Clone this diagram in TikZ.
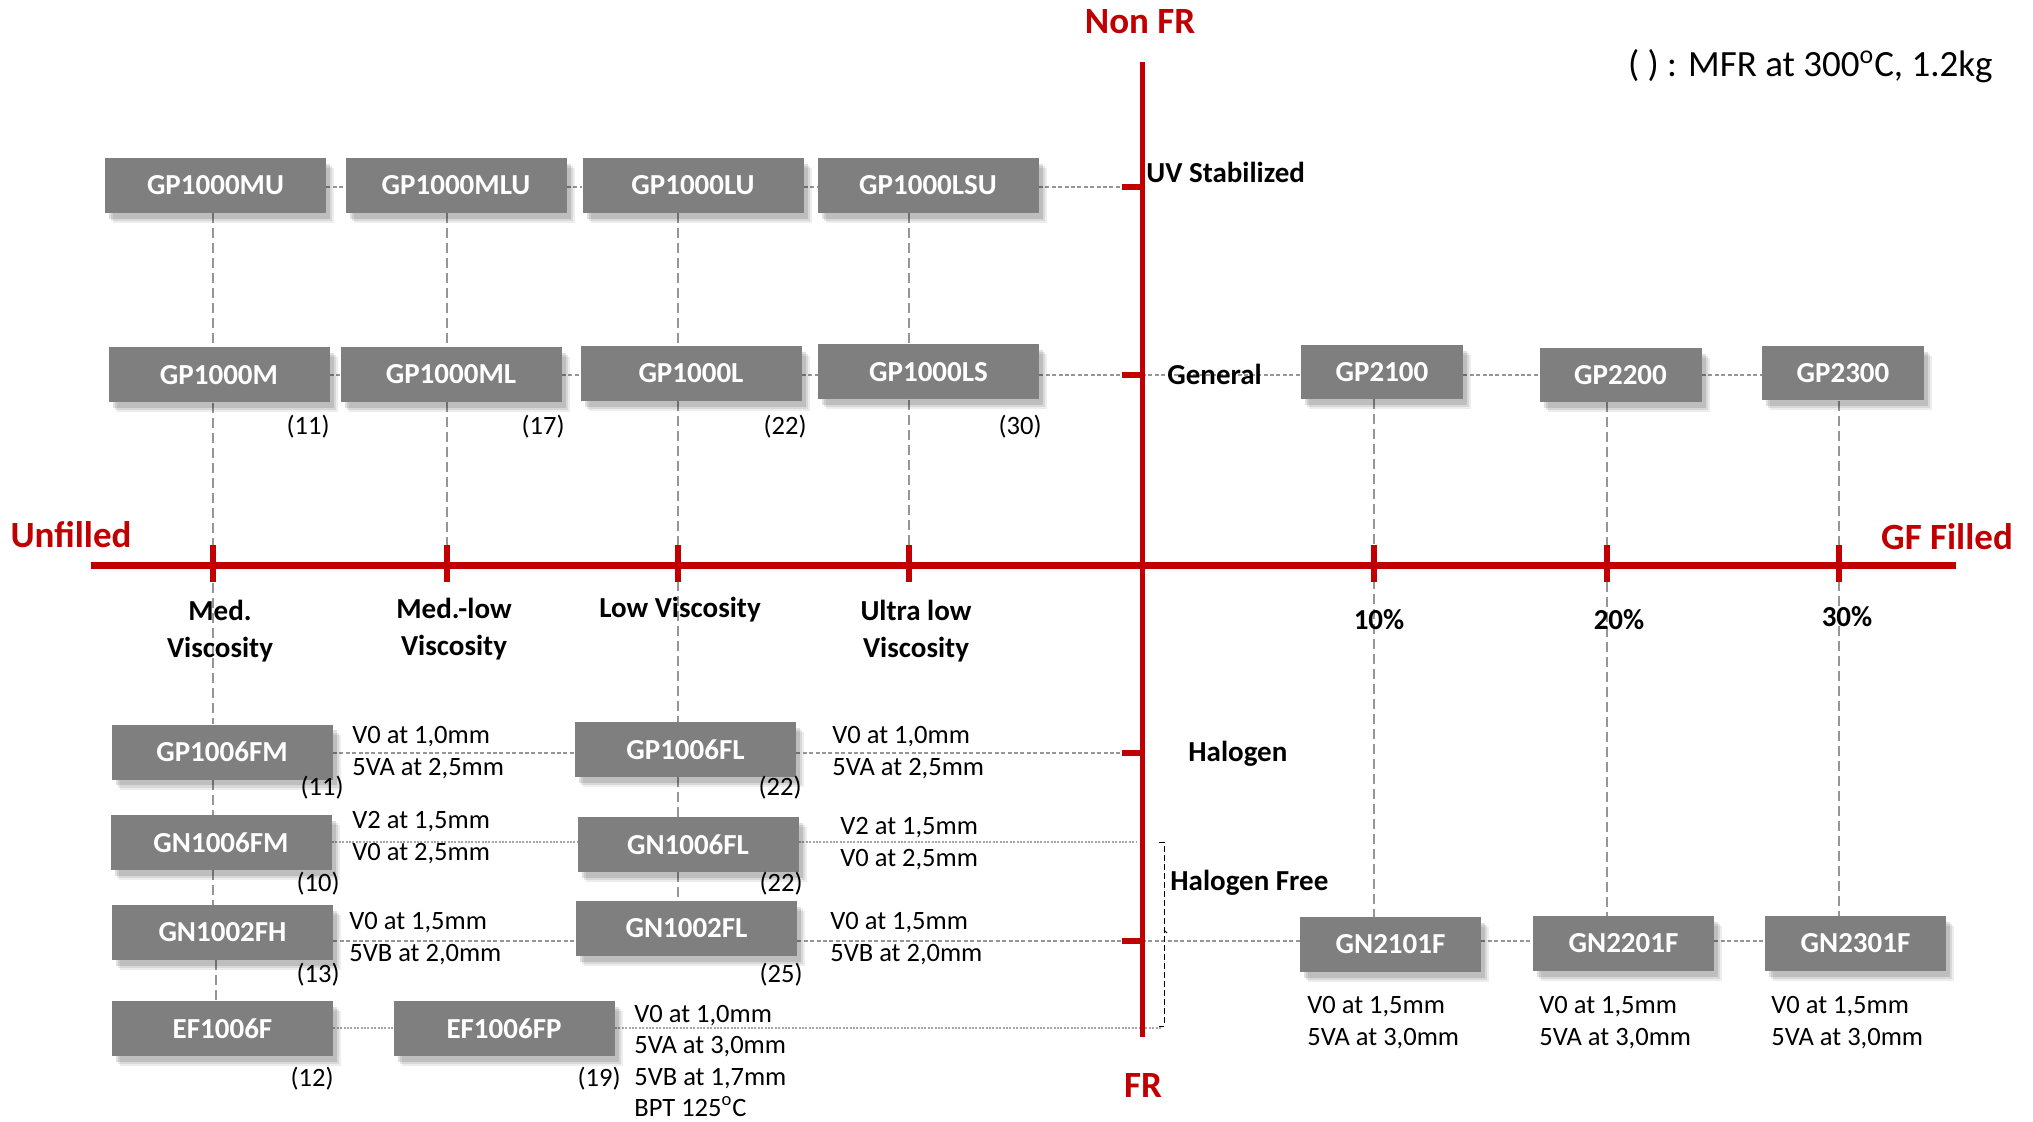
\documentclass[tikz,border=0pt]{standalone}
\usepackage{fontspec}
\setmainfont{Carlito}
\usetikzlibrary{shadows}
\definecolor{axred}{RGB}{192,0,0}
\definecolor{boxgray}{RGB}{127,127,127}
\definecolor{dashgray}{RGB}{150,150,150}
\pgfdeclarelayer{bg}
\pgfsetlayers{bg,main}
\tikzset{
  prod/.style={fill=boxgray, text=white, font=\fontsize{14.5}{16}\selectfont\bfseries, inner sep=0pt,
    drop shadow={shadow xshift=4pt, shadow yshift=-5pt, opacity=0.07, fill=black},
    drop shadow={shadow xshift=3pt, shadow yshift=-4pt, opacity=0.09, fill=black},
    drop shadow={shadow xshift=2pt, shadow yshift=-2.8pt, opacity=0.12, fill=black}},
  wbox/.style={prod, minimum width=110.5pt, minimum height=27.5pt},
  mbox/.style={prod, minimum width=90.5pt, minimum height=27.5pt},
  sbox/.style={prod, minimum width=81pt, minimum height=27pt},
  redlab/.style={text=axred, font=\fontsize{18.5}{20}\selectfont\bfseries, inner sep=0pt},
  catlab/.style={font=\fontsize{14.5}{18.5}\selectfont\bfseries, inner sep=0pt, align=center},
  spec/.style={font=\fontsize{13.25}{16}\selectfont, inner sep=0pt, align=left, anchor=west},
  mfrl/.style={font=\fontsize{13.25}{16}\selectfont, inner sep=0pt, anchor=east},
  vd/.style={draw=dashgray, line width=0.8pt, dash pattern=on 5pt off 2.5pt},
  hd/.style={draw=dashgray, line width=1.2pt, dash pattern=on 2pt off 1.2pt},
  dotl/.style={draw=black!35, line width=0.6pt, dash pattern=on 1pt off 0.7pt},
  brk/.style={draw=black, line width=0.5pt, dash pattern=on 3pt off 1.5pt},
  axisl/.style={draw=axred},
  tickl/.style={draw=axred, line width=3pt},
}
\begin{document}
\begin{tikzpicture}[x=0.5pt,y=-0.5pt]
\useasboundingbox (0,0) rectangle (2033,1122);

% axis reference points
\coordinate (vtop) at (1142,62);
\coordinate (vbot) at (1142,1037);
\coordinate (hl) at (91,565);
\coordinate (hr) at (1956,565);
\coordinate (O) at (1142,565);
\coordinate (c1) at (213,565);
\coordinate (c2) at (447,565);
\coordinate (c3) at (678,565);
\coordinate (c4) at (909,565);
\coordinate (c5) at (1374,565);
\coordinate (c6) at (1607,565);
\coordinate (c7) at (1839,565);
\coordinate (sUV) at (1122,187);
\coordinate (sGen) at (1122,375);
\coordinate (sHal) at (1122,753);
\coordinate (sHF) at (1122,941);
\coordinate (rGN) at (1142,842);
\coordinate (rEF) at (1162,1028);

% product boxes
\node[wbox] (MU) at (215.5,185.5) {GP1000MU};
\node[wbox] (MLU) at (456,185.5) {GP1000MLU};
\node[wbox] (LU) at (693,185.5) {GP1000LU};
\node[wbox] (LSU) at (928,185.5) {GP1000LSU};
\node[wbox] (M) at (219,375) {GP1000M};
\node[wbox] (ML) at (451,374.5) {GP1000ML};
\node[wbox] (L) at (691,373.5) {GP1000L};
\node[wbox] (LS) at (928.5,372) {GP1000LS};
\node[sbox] (G21) at (1382,372) {GP2100};
\node[sbox] (G22) at (1620.5,375) {GP2200};
\node[sbox] (G23) at (1843,373.5) {GP2300};
\node[wbox] (FM) at (222,752) {GP1006FM};
\node[wbox] (FL) at (685.5,749.5) {GP1006FL};
\node[wbox] (NFM) at (221,842.5) {GN1006FM};
\node[wbox] (NFL) at (688,844.5) {GN1006FL};
\node[wbox] (NFH) at (222.5,932.5) {GN1002FH};
\node[wbox] (N2FL) at (686.5,928.5) {GN1002FL};
\node[wbox] (EF) at (222.5,1028.5) {EF1006F};
\node[wbox] (EFP) at (504,1028.5) {EF1006FP};
\node[mbox] (N21) at (1390.5,944.5) {GN2101F};
\node[mbox] (N22) at (1623.5,943.5) {GN2201F};
\node[mbox] (N23) at (1855.5,943.5) {GN2301F};

% red titles
\node[redlab] (nonfr) at (1140,22) {Non FR};
\node[redlab] (fr) at (1143,1085) {FR};
\node[redlab] (unf) at (71,535) {Unfilled};
\node[redlab] (gff) at (1947,537) {GF Filled};
\node[font=\fontsize{18.5}{20}\selectfont, inner sep=0pt, anchor=east] (mfr) at (1993,66) {( ) : MFR at 300\textsuperscript{o}C, 1.2kg};

% category labels
\node[catlab] (vmed) at (220,631.5) {Med.\\Viscosity};
\node[catlab] (vml) at (454,629.5) {Med.-low\\Viscosity};
\node[catlab] (vlow) at (680,610) {Low Viscosity};
\node[catlab] (vul) at (916,631.5) {Ultra low\\Viscosity};
\node[catlab] (p10) at (1379,620) {10\%};
\node[catlab] (p20) at (1619,620) {20\%};
\node[catlab] (p30) at (1847,617) {30\%};
\node[catlab, anchor=west] (uv) at (1146,172) {UV Stabilized};
\node[catlab, anchor=west] (gen) at (1167,374) {General};
\node[catlab, anchor=west] (hal) at (1188,754) {Halogen};
\node[catlab, anchor=west] (hfree) at (1170,883) {Halogen Free};

% MFR values
\node[mfrl] (m1) at (330,427) {(11)};
\node[mfrl] (m2) at (565,427) {(17)};
\node[mfrl] (m3) at (807,427) {(22)};
\node[mfrl] (m4) at (1042,427) {(30)};
\node[mfrl] (m5) at (344,788) {(11)};
\node[mfrl] (m6) at (802,788) {(22)};
\node[mfrl] (m7) at (340,884) {(10)};
\node[mfrl] (m8) at (803,884) {(22)};
\node[mfrl] (m9) at (340,975) {(13)};
\node[mfrl] (m10) at (803,975) {(25)};
\node[mfrl] (m11) at (334,1079) {(12)};
\node[mfrl] (m12) at (621,1079) {(19)};

% specifications
\node[spec] (s1) at (352,753) {V0 at 1,0mm\\5VA at 2,5mm};
\node[spec] (s2) at (832,753) {V0 at 1,0mm\\5VA at 2,5mm};
\node[spec] (s3) at (352,837.5) {V2 at 1,5mm\\V0 at 2,5mm};
\node[spec] (s4) at (840,843.5) {V2 at 1,5mm\\V0 at 2,5mm};
\node[spec] (s5) at (349,938.5) {V0 at 1,5mm\\5VB at 2,0mm};
\node[spec] (s6) at (830,938.5) {V0 at 1,5mm\\5VB at 2,0mm};
\node[spec, font=\fontsize{13.25}{15.6}\selectfont] (s7) at (634,1061) {V0 at 1,0mm\\5VA at 3,0mm\\5VB at 1,7mm\\BPT 125\textsuperscript{o}C};
\node[spec] (s8) at (1307,1022.5) {V0 at 1,5mm\\5VA at 3,0mm};
\node[spec] (s9) at (1539,1022.5) {V0 at 1,5mm\\5VA at 3,0mm};
\node[spec] (s10) at (1771,1022.5) {V0 at 1,5mm\\5VA at 3,0mm};

\begin{pgfonlayer}{bg}
% vertical dashed connectors
\draw[vd] (c1 |- MU.south) -- (c1 |- M.north);
\draw[vd] (c1 |- M.south) -- (c1 |- FM.north);
\draw[vd] (c1 |- FM.south) -- (c1 |- NFM.north);
\draw[vd] (c1 |- NFM.south) -- (c1 |- NFH.north);
\draw[vd] ([xshift=1.5pt]c1 |- NFH.south) -- ([xshift=1.5pt]c1 |- EF.north);
\draw[vd] (c2 |- MLU.south) -- (c2 |- ML.north);
\draw[vd] (c2 |- ML.south) -- (c2);
\draw[vd] (c3 |- LU.south) -- (c3 |- L.north);
\draw[vd] (c3 |- L.south) -- (c3 |- FL.north);
\draw[vd] (c3 |- FL.south) -- (c3 |- NFL.north);
\draw[vd] (c3 |- NFL.south) -- (c3 |- N2FL.north);
\draw[vd] (c4 |- LSU.south) -- (c4 |- LS.north);
\draw[vd] (c4 |- LS.south) -- (c4);
\draw[vd] (c5 |- G21.south) -- (c5 |- N21.north);
\draw[vd] (c6 |- G22.south) -- (c6 |- N22.north);
\draw[vd] (c7 |- G23.south) -- (c7 |- N23.north);
% horizontal dashed connectors
\draw[hd] (MU.east |- sUV) -- (MLU.west |- sUV);
\draw[hd] (MLU.east |- sUV) -- (LU.west |- sUV);
\draw[hd] (LU.east |- sUV) -- (LSU.west |- sUV);
\draw[hd] (LSU.east |- sUV) -- (sUV);
\draw[hd] (M.east |- sGen) -- (ML.west |- sGen);
\draw[hd] (ML.east |- sGen) -- (L.west |- sGen);
\draw[hd] (L.east |- sGen) -- (LS.west |- sGen);
\draw[hd] (LS.east |- sGen) -- (sGen);
\draw[hd] (O |- sGen) -- (G21.west |- sGen);
\draw[hd] (G21.east |- sGen) -- (G22.west |- sGen);
\draw[hd] (G22.east |- sGen) -- (G23.west |- sGen);
\draw[hd] (FM.east |- sHal) -- (FL.west |- sHal);
\draw[hd] (FL.east |- sHal) -- (sHal);
\draw[dotl] (NFM.east |- rGN) -- (NFL.west |- rGN);
\draw[dotl] (NFL.east |- rGN) -- ([xshift=-3pt]rGN);
\draw[hd] (NFH.east |- sHF) -- (N2FL.west |- sHF);
\draw[hd] (N2FL.east |- sHF) -- (sHF);
\draw[hd] (O |- sHF) -- (N21.west |- sHF);
\draw[hd] (N21.east |- sHF) -- (N22.west |- sHF);
\draw[hd] (N22.east |- sHF) -- (N23.west |- sHF);
\draw[dotl] (EF.east |- rEF) -- (EFP.west |- rEF);
\draw[dotl] (EFP.east |- rEF) -- (rEF);
\end{pgfonlayer}

% bracket for halogen free
\draw[brk] (1159,842) -- (1164,842) -- (1164,1026) -- (1159,1026);
\draw[black, line width=0.5pt] (1164,930) -- (1167,933);

% axes
\draw[axisl, line width=2.5pt] (vtop) -- (vbot);
\draw[axisl, line width=3.5pt] (hl) -- (hr);
\foreach \c in {c1,c2,c3,c4,c5,c6,c7} {
  \draw[tickl] (\c) ++(0,-20) -- ++(0,37);
}
\foreach \s in {sUV,sGen,sHal,sHF} {
  \draw[tickl] (\s) -- (O |- \s);
}
\end{tikzpicture}
\end{document}
